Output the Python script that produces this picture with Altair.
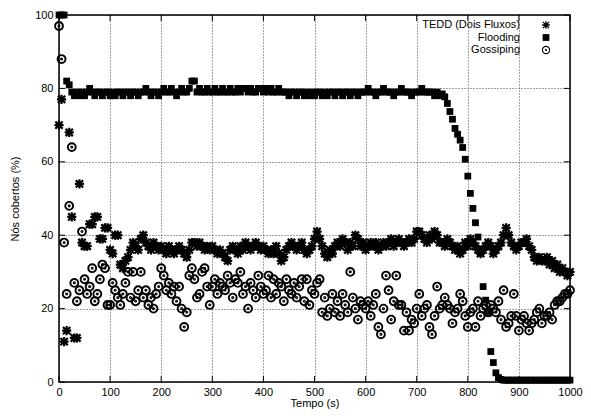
import altair as alt
import pandas as pd

# time axis (s), one sample every 5 s
T = list(range(0, 1001, 5))

TEDD = [
    70, 77, 11, 14, 68, 45, 12, 12, 54, 38, 37, 37, 43, 43, 45, 45, 39, 39, 42, 42,
    36, 35, 40, 40, 32, 31, 33, 34, 36, 38, 37, 36, 39, 40, 38, 37, 36, 38, 37, 36,
    37, 36, 35, 37, 36, 35, 36, 37, 36, 35, 34, 36, 38, 38, 37, 38, 37, 36, 37, 36,
    37, 36, 35, 36, 35, 34, 33, 36, 37, 36, 35, 37, 36, 38, 37, 36, 37, 38, 37, 36,
    37, 36, 35, 36, 35, 37, 35, 33, 34, 36, 37, 38, 37, 36, 37, 38, 36, 35, 36, 37,
    39, 41, 39, 37, 35, 34, 36, 35, 37, 38, 37, 39, 38, 36, 38, 37, 40, 39, 37, 38,
    36, 37, 38, 37, 38, 36, 37, 38, 37, 38, 39, 37, 38, 39, 38, 37, 38, 39, 38, 39,
    41, 41, 40, 39, 38, 40, 39, 41, 40, 38, 38, 37, 39, 38, 37, 36, 37, 35, 36, 38,
    37, 39, 38, 37, 36, 35, 36, 37, 38, 37, 35, 36, 37, 38, 40, 42, 40, 38, 37, 36,
    37, 38, 38, 39, 37, 36, 34, 33, 34, 33, 33, 34, 32, 33, 31, 32, 30, 31, 30, 29,
    30,
]

FLOODING = [
    100, 100, 100, 82, 81, 79, 78, 79, 78, 79, 78, 79, 80, 79, 78, 79, 79, 78, 79, 79,
    78, 79, 78, 79, 79, 78, 79, 79, 78, 79, 79, 78, 79, 79, 80, 79, 78, 79, 79, 78,
    79, 80, 79, 79, 80, 79, 78, 79, 80, 79, 79, 80, 82, 82, 79, 80, 79, 79, 80, 79,
    79, 80, 79, 79, 80, 79, 79, 80, 79, 79, 80, 79, 80, 80, 79, 80, 79, 79, 80, 80,
    79, 80, 79, 80, 79, 79, 80, 79, 79, 79, 78, 79, 79, 78, 79, 79, 78, 79, 78, 79,
    78, 79, 79, 78, 79, 78, 79, 79, 78, 79, 79, 78, 79, 79, 78, 79, 79, 78, 79, 79,
    79, 80, 79, 79, 78, 79, 79, 80, 79, 79, 79, 78, 79, 79, 80, 79, 79, 79, 78, 79,
    79, 79, 80, 79, 79, 79, 79, 78, 79, 78, 78.5, 77.7, 75.9, 73.7, 71.6, 69.1, 67.5, 65.9, 63.9, 60.7,
    56.1, 51.4, 47.3, 43.4, 39.5, 35.2, 26, 22.3, 18.7, 8.3, 5.3, 2.5, 1.2, 0.7, 0.5, 0.5, 0.5, 0.5, 0.5, 0.5,
    0.5, 0.5, 0.5, 0.5, 0.5, 0.5, 0.5, 0.5, 0.5, 0.5, 0.5, 0.5, 0.5, 0.5, 0.5, 0.5, 0.5, 0.5, 0.5, 0.5,
    0.5,
]

GOSSIPING = [
    97, 88, 38, 24, 48, 64, 27, 22, 25, 41, 28, 24, 26, 31, 22, 24, 28, 32, 31, 21,
    21, 27, 25, 23, 21, 24, 27, 30, 23, 30, 22, 25, 30, 23, 25, 21, 23, 20, 24, 26,
    31, 29, 25, 27, 24, 26, 22, 26, 20, 15, 19, 29, 31, 28, 23, 24, 30, 31, 26, 21,
    26, 28, 24, 27, 26, 25, 29, 27, 23, 28, 27, 30, 24, 26, 20, 27, 25, 23, 29, 26,
    24, 25, 29, 23, 28, 24, 27, 26, 22, 28, 25, 24, 27, 23, 26, 28, 22, 28, 21, 25,
    24, 27, 28, 19, 23, 18, 20, 24, 19, 22, 18, 24, 21, 19, 30, 23, 20, 17, 22, 21,
    20, 22, 18, 21, 24, 15, 13, 20, 29, 25, 17, 22, 29, 21, 21, 14, 19, 14, 17, 16,
    20, 24, 18, 20, 21, 15, 13, 18, 26, 20, 21, 23, 21, 20, 16, 19, 20, 24, 22, 18,
    15, 19, 20, 15, 22, 18, 20, 21, 19, 21, 20, 19, 22, 17, 25, 15, 16, 18, 24, 18,
    14, 17, 18, 16, 14, 16, 17, 19, 20, 16, 18, 18, 19, 17, 21, 22, 22, 23, 24, 24,
    25,
]

SERIES = ["TEDD (Dois Fluxos)", "Flooding", "Gossiping"]
X_TICKS = [0, 100, 200, 300, 400, 500, 600, 700, 800, 900, 1000]
Y_TICKS = [0, 20, 40, 60, 80, 100]

assert len(TEDD) == len(T) and len(FLOODING) == len(T) and len(GOSSIPING) == len(T)

W, H = 511, 367
FONT = "Liberation Sans"

STAR = "M-1,0L1,0M0,-1L0,1M-0.8,-0.8L0.8,0.8M-0.8,0.8L0.8,-0.8"
CIRCLE_DOT = ("M1,0A1,1,0,1,1,-1,0A1,1,0,1,1,1,0Z"
              "M0.15,0A0.15,0.15,0,1,1,-0.15,0A0.15,0.15,0,1,1,0.15,0Z")

xscale = alt.Scale(domain=[0, 1000], nice=False, zero=False)
yscale = alt.Scale(domain=[0, 100], nice=False, zero=False)
common_axis = dict(grid=True, gridDash=[1, 2], gridColor="#444", gridWidth=1,
                   tickSize=0, domain=False, format="d", labelFlush=False,
                   titleFontWeight="normal", labelFont=FONT, titleFont=FONT,
                   labelFontSize=11, titleFontSize=11, labelColor="black",
                   titleColor="black")
xaxis = alt.Axis(values=X_TICKS, title="Tempo (s)", labelPadding=4,
                 titlePadding=0, **common_axis)
yaxis = alt.Axis(values=Y_TICKS, title="Nós cobertos (%)", labelPadding=6,
                 titlePadding=14, **common_axis)

def series_df(vals):
    return pd.DataFrame({"t": T, "v": vals})

X = alt.X("t:Q", scale=xscale, axis=xaxis)
Y = alt.Y("v:Q", scale=yscale, axis=yaxis)

tedd = alt.Chart(series_df(TEDD)).mark_point(
    shape=STAR, size=84, filled=False, stroke="black", strokeWidth=2.2, opacity=1
).encode(x=X, y=Y)

flood = alt.Chart(series_df(FLOODING)).mark_point(
    shape="square", size=46, filled=True, fill="black", strokeWidth=0, opacity=1
).encode(x=X, y=Y)

goss = alt.Chart(series_df(GOSSIPING)).mark_point(
    shape=CIRCLE_DOT, size=62, filled=False, stroke="black", strokeWidth=1.9, opacity=1
).encode(x=X, y=Y)

# inward tick marks on all four sides (gnuplot style)
xt = pd.DataFrame({"t": X_TICKS})
yt = pd.DataFrame({"v": Y_TICKS})
tick_b = alt.Chart(xt).mark_rule(color="black", strokeWidth=1).encode(
    x=X, y=alt.value(H), y2=alt.value(H - 6))
tick_t = alt.Chart(xt).mark_rule(color="black", strokeWidth=1).encode(
    x=X, y=alt.value(0), y2=alt.value(6))
tick_l = alt.Chart(yt).mark_rule(color="black", strokeWidth=1).encode(
    y=Y, x=alt.value(0), x2=alt.value(6))
tick_r = alt.Chart(yt).mark_rule(color="black", strokeWidth=1).encode(
    y=Y, x=alt.value(W), x2=alt.value(W - 6))

# plot border
frame = alt.Chart(pd.DataFrame({"k": [0]})).mark_rect(
    fill=None, filled=False, stroke="black", strokeWidth=1.5
).encode(x=alt.value(0), x2=alt.value(W), y=alt.value(0), y2=alt.value(H))

# legend (gnuplot style: label on the left, symbol on the right)
LEG_TX, LEG_SX = 461, 487
LEG_Y = [10, 22.5, 35]
legend_layers = []
for i, (name, ly) in enumerate(zip(SERIES, LEG_Y)):
    ld = pd.DataFrame({"s": [name]})
    legend_layers.append(
        alt.Chart(ld).mark_text(align="right", baseline="middle", font=FONT,
                                fontSize=11, color="black").encode(
            text="s:N", x=alt.value(LEG_TX), y=alt.value(ly)))
    if i == 0:
        sym = alt.Chart(ld).mark_point(shape=STAR, size=60, filled=False,
                                       stroke="black", strokeWidth=1.3, opacity=1)
    elif i == 1:
        sym = alt.Chart(ld).mark_point(shape="square", size=46, filled=True,
                                       fill="black", strokeWidth=0, opacity=1)
    else:
        sym = alt.Chart(ld).mark_point(shape=CIRCLE_DOT, size=52, filled=False,
                                       stroke="black", strokeWidth=1.1, opacity=1)
    legend_layers.append(sym.encode(x=alt.value(LEG_SX), y=alt.value(ly)))

chart = alt.layer(
    tick_b, tick_t, tick_l, tick_r, tedd, flood, goss, frame, *legend_layers
).properties(
    width=W, height=H,
    background="white",
    autosize=alt.AutoSizeParams(type="none"),
    padding={"left": 51, "top": 7, "right": 13, "bottom": 29},
).configure_view(
    stroke=None
)

chart.save("out.html", embed_options={"renderer": "svg", "actions": False})
